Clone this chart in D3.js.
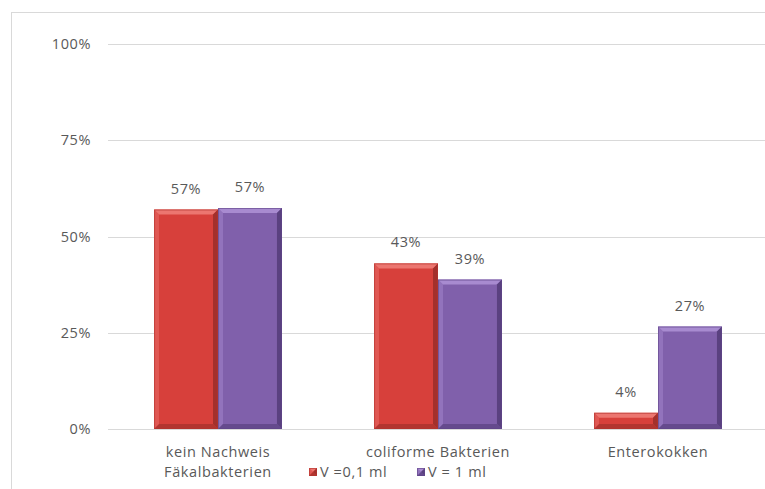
<!DOCTYPE html>
<html>
<head>
<meta charset="utf-8">
<script src="https://cdn.jsdelivr.net/npm/d3@7"></script>
<style>
  body{margin:0;background:#fff;}
  svg{display:block;font-family:"Open Sans",Lato,sans-serif;}
  svg text{letter-spacing:0.6px;}
</style>
</head>
<body>
<div id="content"></div>
<script>
// data
const categories = ["kein Nachweis\nFäkalbakterien", "coliforme Bakterien", "Enterokokken"];
const seriesNames = ["V =0,1 ml", "V = 1 ml"];
const smallVolume = [0.57, 0.43, 0.042];
const largeVolume = [0.574, 0.388, 0.266];
const yTicks = [0, 0.25, 0.5, 0.75, 1];

const W = 765, H = 489;
const FONT = 14.5, TXT = "#595959";
const colors = [
  {base:"#d7403b", light:"#ec7670", dark:"#a3302c", edge:"#b3342f"},
  {base:"#8060ab", light:"#a88bd0", dark:"#5a4180", edge:"#5f4589"}
];

const svg = d3.select("#content").append("svg")
  .attr("width", W).attr("height", H);

// chart frame
svg.append("rect")
  .attr("x", 11.5).attr("y", 12.5)
  .attr("width", 800).attr("height", 500)
  .attr("fill", "#fff").attr("stroke", "#d9d9d9");

const x = d3.scaleBand()
  .domain(categories)
  .range([108, 768])
  .paddingInner(0).paddingOuter(0);

const inner = d3.scaleBand()
  .domain(seriesNames)
  .range([0, x.bandwidth()])
  .paddingOuter(0.72).paddingInner(0);

const y = d3.scaleLinear().domain([0, 1]).range([429, 44]);

// gridlines
svg.append("g")
  .selectAll("line")
  .data(yTicks)
  .join("line")
    .attr("x1", 108).attr("x2", W)
    .attr("y1", d => Math.round(y(d)) + 0.5)
    .attr("y2", d => Math.round(y(d)) + 0.5)
    .attr("stroke", "#d9d9d9");

// y axis labels (no axis line)
const yAxis = d3.axisLeft(y)
  .tickValues(yTicks)
  .tickFormat(d3.format(".0%"))
  .tickSize(0).tickPadding(0);
svg.append("g")
  .attr("transform", "translate(91,0)")
  .call(yAxis)
  .call(g => g.select(".domain").remove())
  .call(g => g.selectAll("text")
    .attr("fill", TXT)
    .attr("font-size", FONT)
    .attr("font-family", "'Open Sans',Lato,sans-serif"));

// bars with a bevel look
const rows = [];
categories.forEach((c, i) => {
  rows.push({cat:c, s:0, v:smallVolume[i]});
  rows.push({cat:c, s:1, v:largeVolume[i]});
});

function bevelBar(g, bx, by, bw, bh, col){
  const b = Math.min(5, bh / 2, bw / 2);
  g.append("rect")
    .attr("x", bx).attr("y", by).attr("width", bw).attr("height", bh)
    .attr("fill", col.base);
  // top bevel
  g.append("polygon")
    .attr("points", [[bx,by],[bx+bw,by],[bx+bw-b,by+b],[bx+b,by+b]].join(" "))
    .attr("fill", col.light);
  // left bevel
  g.append("polygon")
    .attr("points", [[bx,by],[bx+b,by+b],[bx+b,by+bh-b],[bx,by+bh]].join(" "))
    .attr("fill", col.light).attr("opacity", 0.45);
  // right bevel
  g.append("polygon")
    .attr("points", [[bx+bw,by],[bx+bw,by+bh],[bx+bw-b,by+bh-b],[bx+bw-b,by+b]].join(" "))
    .attr("fill", col.dark);
  // bottom bevel
  g.append("polygon")
    .attr("points", [[bx,by+bh],[bx+bw,by+bh],[bx+bw-b,by+bh-b],[bx+b,by+bh-b]].join(" "))
    .attr("fill", col.dark).attr("opacity", 0.7);
  g.append("rect")
    .attr("x", bx + 0.5).attr("y", by + 0.5)
    .attr("width", bw - 1).attr("height", Math.max(0, bh - 1))
    .attr("fill", "none").attr("stroke", col.edge).attr("stroke-opacity", 0.6);
}

const barLayer = svg.append("g");
rows.forEach(d => {
  const bx = x(d.cat) + inner(seriesNames[d.s]);
  const by = y(d.v);
  bevelBar(barLayer.append("g"), bx, by, inner.bandwidth(), y(0) - by, colors[d.s]);
});

// value labels
svg.append("g")
  .selectAll("text")
  .data(rows)
  .join("text")
    .attr("x", d => x(d.cat) + inner(seriesNames[d.s]) + inner.bandwidth() / 2)
    .attr("y", d => y(d.v) - 16)
    .attr("text-anchor", "middle")
    .attr("font-size", FONT)
    .attr("fill", TXT)
    .text(d => d3.format(".0%")(d.v));

// category labels
const catG = svg.append("g")
  .selectAll("text")
  .data(categories)
  .join("text")
    .attr("x", d => x(d) + x.bandwidth() / 2)
    .attr("y", 457)
    .attr("text-anchor", "middle")
    .attr("font-size", FONT)
    .attr("fill", TXT);
catG.selectAll("tspan")
  .data(d => d.split("\n"))
  .join("tspan")
    .attr("x", function(){ return this.parentNode.getAttribute("x"); })
    .attr("dy", (d, i) => i ? 20 : 0)
    .text(d => d);

// legend
const legendX = [309, 417];
const legend = svg.append("g")
  .selectAll("g")
  .data(seriesNames)
  .join("g")
    .attr("transform", (d, i) => `translate(${legendX[i]},468)`);
legend.each(function(d, i){
  bevelBar(d3.select(this), 0, 0, 8, 8, colors[i]);
});
legend.append("text")
  .attr("x", 11).attr("y", 9)
  .attr("font-size", FONT)
  .attr("fill", TXT)
  .text(d => d);
</script>
</body>
</html>
